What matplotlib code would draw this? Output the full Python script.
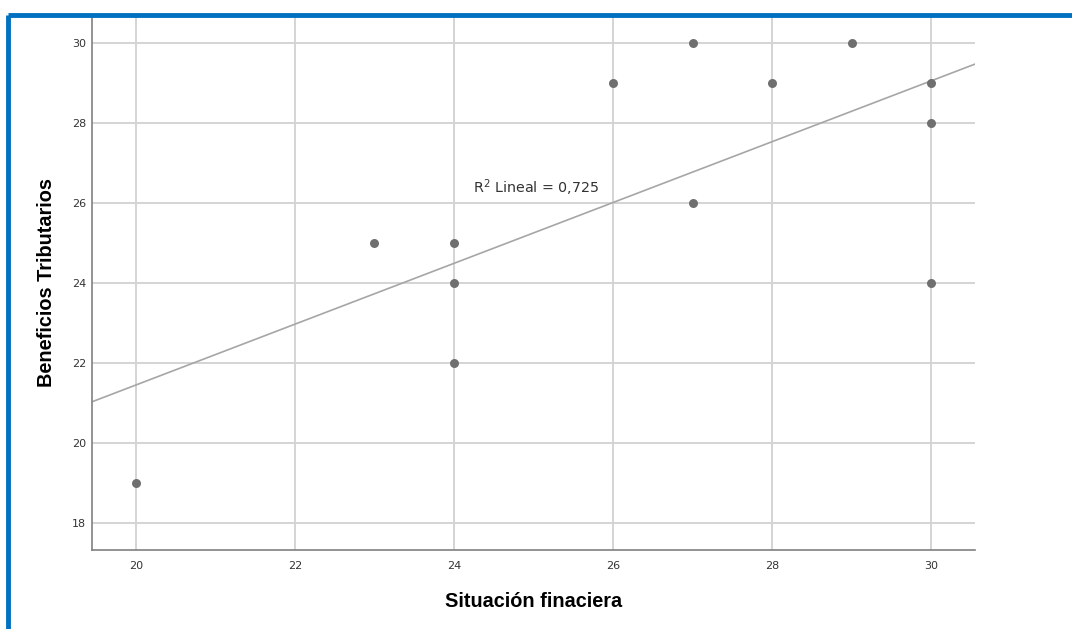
import numpy as np
import matplotlib
matplotlib.use("Agg")
import matplotlib.pyplot as plt
from matplotlib.lines import Line2D

# Data
situacion = [20, 23, 24, 24, 24, 26, 27, 27, 28, 29, 30, 30, 30]
beneficios = [19, 25, 25, 24, 22, 29, 30, 26, 29, 30, 29, 28, 24]
x_ticks = [20, 22, 24, 26, 28, 30]
y_ticks = [18, 20, 22, 24, 26, 28, 30]
fit_intercept = 6.25
fit_slope = 0.76
r2_label = "R$^2$ Lineal = 0,725"

fig = plt.figure(figsize=(10.72, 6.29), dpi=100)
ax = fig.add_axes([0.0858, 0.1256, 0.8237, 0.849])

ax.set_xlim(19.45, 30.55)
ax.set_ylim(17.33, 30.67)
ax.set_xticks(x_ticks)
ax.set_yticks(y_ticks)
ax.grid(True, color="#d4d4d4", linewidth=1.4)
ax.set_axisbelow(True)
ax.tick_params(length=0, labelsize=8, labelcolor="#333333")
ax.tick_params(axis="x", pad=8)
ax.tick_params(axis="y", pad=4)

for s in ["top", "right"]:
    ax.spines[s].set_visible(False)
for s in ["left", "bottom"]:
    ax.spines[s].set_color("#808080")
    ax.spines[s].set_linewidth(1.2)

# fit line across the whole x range
xl = np.array(ax.get_xlim())
ax.plot(xl, fit_intercept + fit_slope * xl, color="#a6a6a6", linewidth=1.2, zorder=2)

ax.scatter(situacion, beneficios, s=42, color="#6f6f6f", zorder=3, linewidths=0)

ax.text(24.24, 26.38, r2_label, fontsize=10.3, color="#333333", va="center", ha="left")

ax.set_xlabel("Situación finaciera", fontsize=14.3, fontweight="bold",
              family="Liberation Sans", labelpad=15)
ax.set_ylabel("Beneficios Tributarios", fontsize=14.3, fontweight="bold",
              family="Liberation Sans", labelpad=12)

# blue frame of the screenshot
fig.add_artist(Line2D([0.0074, 1.0], [0.9762, 0.9762], color="#0070c0", linewidth=3.5,
                      solid_capstyle="butt", transform=fig.transFigure))
fig.add_artist(Line2D([0.0074, 0.0074], [0.0, 0.9762], color="#0070c0", linewidth=3.5,
                      solid_capstyle="butt", transform=fig.transFigure))

fig.savefig("out.png", dpi=100)
